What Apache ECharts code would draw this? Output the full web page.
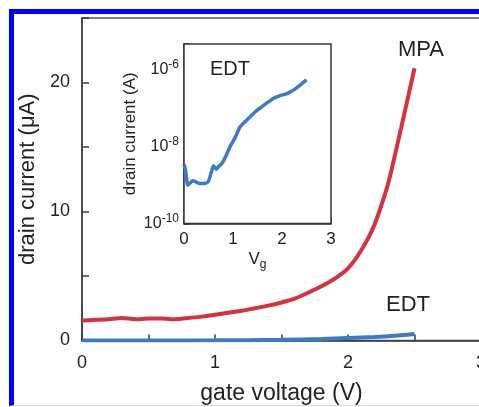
<!DOCTYPE html>
<html><head><meta charset="utf-8">
<script src="https://cdn.jsdelivr.net/npm/echarts@6/dist/echarts.min.js"></script>
<style>
html,body{margin:0;padding:0;background:#fff;}
#wrap{position:relative;width:479px;height:407px;overflow:hidden;}
#frame{position:absolute;left:9px;top:9px;width:480px;height:397px;border-left:5px solid #0000ff;border-top:5px solid #0000ff;border-bottom:1px solid #d4d4ff;box-sizing:border-box;}
#chart{position:absolute;left:0;top:0;width:479px;height:407px;}
</style></head><body>
<div id="wrap"><div id="frame"></div><div id="chart"></div></div>
<script>
// ---- data ----
const mpaVoltage = [0, 0.1, 0.2, 0.3, 0.4, 0.5, 0.6, 0.7, 0.8, 0.9, 1.0, 1.1, 1.2, 1.3, 1.4, 1.5, 1.6, 1.7, 1.8, 1.9, 2.0, 2.1, 2.2, 2.3, 2.4, 2.5];
const mpaCurrent = [1.55, 1.6, 1.65, 1.75, 1.65, 1.7, 1.7, 1.65, 1.75, 1.85, 2.0, 2.15, 2.3, 2.5, 2.7, 2.95, 3.25, 3.7, 4.2, 4.8, 5.6, 7.0, 9.0, 12.1, 16.5, 21.1];
const edtVoltage = [0, 0.5, 1.0, 1.5, 1.8, 2.0, 2.2, 2.35, 2.5];
const edtCurrent = [0, 0, 0.01, 0.05, 0.12, 0.2, 0.27, 0.36, 0.5];
const insetVoltage = [0, 0.03, 0.08, 0.18, 0.25, 0.32, 0.4, 0.49, 0.55, 0.6, 0.66, 0.7, 0.77, 0.85, 0.94, 1.05, 1.14, 1.25, 1.35, 1.45, 1.55, 1.7, 1.82, 1.95, 2.1, 2.2, 2.3, 2.4, 2.5];
const insetCurrent = [3.5e-9, 2.5e-9, 1e-9, 1.3e-9, 1.2e-9, 1.1e-9, 1.1e-9, 1.2e-9, 2e-9, 3.2e-9, 2.6e-9, 3e-9, 3.6e-9, 5.5e-9, 1e-8, 1.8e-8, 3.2e-8, 4.5e-8, 6e-8, 8e-8, 1e-7, 1.4e-7, 1.8e-7, 2.1e-7, 2.4e-7, 2.8e-7, 3.4e-7, 4.3e-7, 5.5e-7];
const mainXLabels = [0, 1, 2, 3];
const mainYLabels = [0, 10, 20];
const insetXLabels = [0, 1, 2, 3];
const insetYExponents = [-10, -8, -6];

const zip = (xs, ys) => xs.map((x, i) => [x, ys[i]]);
const FONT = "'Liberation Sans', Arial, sans-serif";
const TXT = '#222';
const AX = '#3a3a3a';
const RED = '#d8303c';
const BLUE = '#3b7ac6';

const chart = echarts.init(document.getElementById('chart'), null, {renderer: 'canvas'});
chart.setOption({
  animation: false,
  backgroundColor: 'transparent',
  textStyle: {fontFamily: FONT, color: TXT},
  grid: [
    {left: 82, top: 18, width: 399, height: 322.5, show: true, borderColor: '#555', borderWidth: 1.5,
     backgroundColor: 'transparent', containLabel: false, outerBoundsMode: 'none'},
    {left: 184, top: 44, width: 147, height: 179.5, show: true, borderColor: '#333', borderWidth: 1.5,
     backgroundColor: '#fff', z: 5, containLabel: false, outerBoundsMode: 'none'}
  ],
  xAxis: [
    {gridIndex: 0, type: 'value', min: 0, max: 3, interval: 0.5,
     axisLine: {lineStyle: {color: AX, width: 1.5}},
     axisTick: {inside: true, length: 6, lineStyle: {color: AX, width: 1.5}},
     axisLabel: {margin: 14, fontSize: 18, color: TXT, fontFamily: FONT,
       formatter: v => mainXLabels.includes(v) ? String(v) : ''},
     splitLine: {show: false},
     name: 'gate voltage (V)', nameLocation: 'middle', nameGap: 42,
     nameTextStyle: {fontSize: 23, color: TXT, fontFamily: FONT}},
    {gridIndex: 1, type: 'value', min: 0, max: 3, interval: 1,
     axisLine: {lineStyle: {color: AX, width: 1.5}},
     axisTick: {inside: true, length: 6, lineStyle: {color: AX, width: 1.5}},
     axisLabel: {margin: 7, fontSize: 17, color: TXT, fontFamily: FONT,
       formatter: v => insetXLabels.includes(v) ? String(v) : ''},
     splitLine: {show: false},
     name: 'V{sub|g}', nameLocation: 'middle', nameGap: 25,
     nameTextStyle: {fontSize: 17, color: TXT, fontFamily: FONT,
       rich: {sub: {fontSize: 12, color: TXT, fontFamily: FONT, padding: [10, 0, 0, 0]}}}}
  ],
  yAxis: [
    {gridIndex: 0, type: 'value', min: 0, max: 25, interval: 5,
     axisLine: {lineStyle: {color: AX, width: 1.5}},
     axisTick: {inside: true, length: 7, lineStyle: {color: AX, width: 1.5}},
     axisLabel: {margin: 12, fontSize: 18, color: TXT, fontFamily: FONT,
       formatter: v => mainYLabels.includes(v) ? String(v) : ''},
     splitLine: {show: false},
     name: 'drain current (\u03bcA)', nameLocation: 'middle', nameGap: 40,
     nameTextStyle: {fontSize: 22, color: TXT, fontFamily: FONT}},
    {gridIndex: 1, type: 'log', logBase: 10, min: 1e-10, max: 4.7e-6,
     axisLine: {lineStyle: {color: AX, width: 1.5}},
     axisTick: {inside: true, length: 5, lineStyle: {color: AX, width: 1.5}},
     axisLabel: {margin: 5, fontSize: 16, color: TXT, fontFamily: FONT,
       formatter: v => {
         const l = Math.log10(v); const e = Math.round(l);
         if (Math.abs(l - e) > 1e-6 || !insetYExponents.includes(e)) return '';
         return '{base|10}{sup|' + e + '}';
       },
       rich: {base: {fontSize: 16, color: TXT, fontFamily: FONT},
              sup: {fontSize: 12, color: TXT, fontFamily: FONT, padding: [0, 0, 10, 0]}}},
     splitLine: {show: false},
     name: 'drain current (A)', nameLocation: 'middle', nameGap: 45,
     nameTextStyle: {fontSize: 17, color: TXT, fontFamily: FONT}}
  ],
  series: [
    {type: 'line', xAxisIndex: 0, yAxisIndex: 0, data: zip(mpaVoltage, mpaCurrent), symbol: 'none', smooth: 0.2,
     lineStyle: {color: RED, width: 4}, z: 3},
    {type: 'line', xAxisIndex: 0, yAxisIndex: 0, data: zip(edtVoltage, edtCurrent), symbol: 'none', smooth: 0.2,
     lineStyle: {color: BLUE, width: 4}, z: 3},
    {type: 'line', xAxisIndex: 1, yAxisIndex: 1, data: zip(insetVoltage, insetCurrent), symbol: 'none', smooth: 0.2,
     lineStyle: {color: BLUE, width: 3.5}, z: 6}
  ],
  graphic: [
    {type: 'text', x: 421, y: 50, z: 10, style: {text: 'MPA', fontSize: 22, fontFamily: FONT, fill: TXT, align: 'center', verticalAlign: 'middle'}},
    {type: 'text', x: 408, y: 305, z: 10, style: {text: 'EDT', fontSize: 22, fontFamily: FONT, fill: TXT, align: 'center', verticalAlign: 'middle'}},
    {type: 'text', x: 230, y: 69.5, z: 10, style: {text: 'EDT', fontSize: 20, fontFamily: FONT, fill: TXT, align: 'center', verticalAlign: 'middle'}}
  ]
});
</script>
</body></html>
